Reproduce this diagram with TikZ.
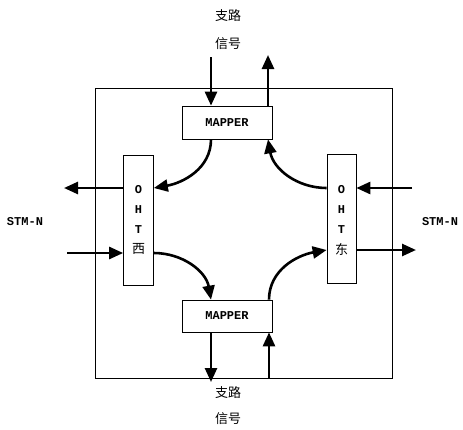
\documentclass[tikz,border=0pt]{standalone}
\usepackage{fontspec}
\setmonofont{Liberation Mono}
\newfontfamily\cjk{Noto Sans CJK SC}
\usetikzlibrary{arrows.meta,calc}
\begin{document}
\begin{tikzpicture}[x=1pt,y=-1pt,
  box/.style={draw,line width=0.7pt,inner sep=0pt},
  sig/.style={line width=2.6pt,-{Triangle[length=14pt,width=12pt]}},
  lbl/.style={font=\ttfamily\bfseries\fontsize{12}{14}\selectfont},
  cn/.style={font=\cjk\fontsize{13}{15}\selectfont}]
\useasboundingbox (0,0) rectangle (463,429);
% outer frame
\node[draw,line width=0.6pt,minimum width=297pt,minimum height=290pt,inner sep=0pt] (frame) at (243.5,233) {};
% boxes
\node[box,minimum width=90pt,minimum height=33pt,lbl] (tm) at (227,122.5) {MAPPER};
\node[box,minimum width=90pt,minimum height=32pt,lbl] (bm) at (227,316) {MAPPER};
\node[box,minimum width=30pt,minimum height=130pt] (w) at (138.5,220) {};
\node[box,minimum width=29pt,minimum height=129pt] (e) at (341.5,218.5) {};
% box texts
\node[lbl] (wo) at (138.5,190) {O};
\node[lbl] (wh) at (138.5,210) {H};
\node[lbl] (wt) at (138.5,230) {T};
\node[cn] (wx) at (138.5,249) {西};
\node[lbl] (eo) at (341.5,190) {O};
\node[lbl] (eh) at (341.5,210) {H};
\node[lbl] (et) at (341.5,230) {T};
\node[cn] (ed) at (341.5,249) {东};
% labels
\node[cn] (t1) at (228,16) {支路};
\node[cn] (t2) at (228,44) {信号};
\node[cn] (b1) at (228,393) {支路};
\node[cn] (b2) at (228,419) {信号};
\node[lbl] (sl) at (25,222) {STM-N};
\node[lbl] (sr) at (440,222) {STM-N};
% free ends
\coordinate (tin) at (211,57);
\coordinate (tout) at (268,55);
\coordinate (bout) at (211,382);
\coordinate (bin) at (269,378);
\coordinate (wout) at (64,188);
\coordinate (win) at (67,253);
\coordinate (ein) at (412,188);
\coordinate (eout) at (416,250);
% straight signals
\draw[sig] (tin) -- (tin |- tm.north);
\draw[sig] (tout |- tm.north) -- (tout);
\draw[sig] (bout |- bm.south) -- (bout);
\draw[sig] (bin) -- (bin |- bm.south);
\draw[sig] (wout -| w.west) -- (wout);
\draw[sig] (win) -- (win -| w.west);
\draw[sig] (ein) -- (ein -| e.east);
\draw[sig] (eout -| e.east) -- (eout);
% curved signals
\draw[sig] (tm.south -| tin) to[out=270,in=10] (w.east |- wout);
\draw[sig] (w.east |- win) to[out=0,in=100] (bm.north -| bout);
\draw[sig] (bm.north -| bin) to[out=90,in=190] (e.west |- eout);
\draw[sig] (e.west |- ein) to[out=180,in=280] (tm.south -| tout);
\end{tikzpicture}
\end{document}
